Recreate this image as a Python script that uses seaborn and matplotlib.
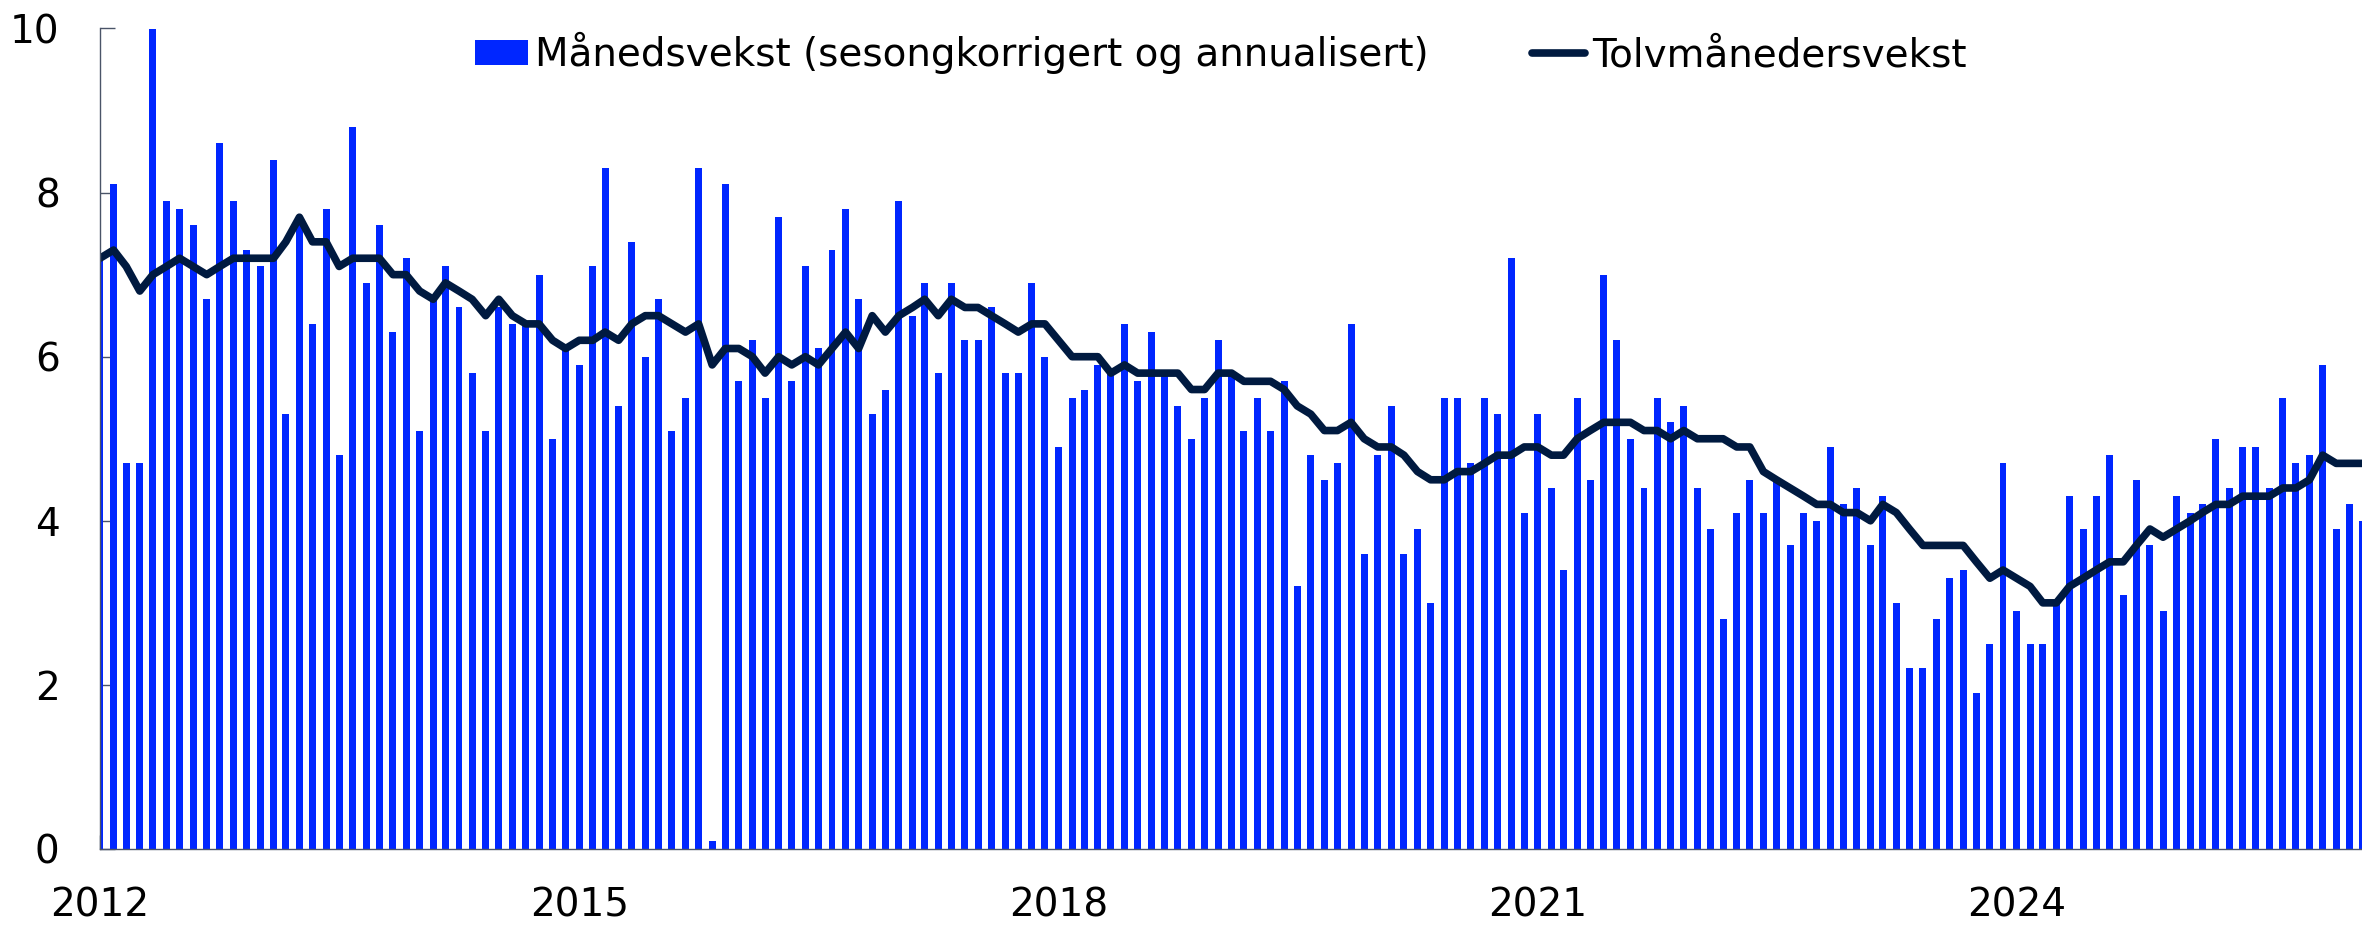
import numpy as np
import pandas as pd
import seaborn as sns
import matplotlib.pyplot as plt
import matplotlib.dates as mdates
from matplotlib.patches import Patch
from matplotlib.lines import Line2D

# månedlige observasjoner, jan 2012 - mar 2026
maaneder = pd.date_range("2012-01-01", "2026-03-01", freq="MS")
aarstall = pd.date_range("2012-01-01", "2024-01-01", freq="36MS")

# Månedsvekst (sesongkorrigert og annualisert)
maanedsvekst = [
    7.2, 8.1, 4.7, 4.7, 10.0, 7.9, 7.8, 7.6, 6.7, 8.6, 7.9, 7.3,
    7.1, 8.4, 5.3, 7.6, 6.4, 7.8, 4.8, 8.8, 6.9, 7.6, 6.3, 7.2,
    5.1, 6.7, 7.1, 6.6, 5.8, 5.1, 6.6, 6.4, 6.4, 7.0, 5.0, 6.1,
    5.9, 7.1, 8.3, 5.4, 7.4, 6.0, 6.7, 5.1, 5.5, 8.3, 0.1, 8.1,
    5.7, 6.2, 5.5, 7.7, 5.7, 7.1, 6.1, 7.3, 7.8, 6.7, 5.3, 5.6,
    7.9, 6.5, 6.9, 5.8, 6.9, 6.2, 6.2, 6.6, 5.8, 5.8, 6.9, 6.0,
    4.9, 5.5, 5.6, 5.9, 5.8, 6.4, 5.7, 6.3, 5.8, 5.4, 5.0, 5.5,
    6.2, 5.8, 5.1, 5.5, 5.1, 5.7, 3.2, 4.8, 4.5, 4.7, 6.4, 3.6,
    4.8, 5.4, 3.6, 3.9, 3.0, 5.5, 5.5, 4.7, 5.5, 5.3, 7.2, 4.1,
    5.3, 4.4, 3.4, 5.5, 4.5, 7.0, 6.2, 5.0, 4.4, 5.5, 5.2, 5.4,
    4.4, 3.9, 2.8, 4.1, 4.5, 4.1, 4.5, 3.7, 4.1, 4.0, 4.9, 4.2,
    4.4, 3.7, 4.3, 3.0, 2.2, 2.2, 2.8, 3.3, 3.4, 1.9, 2.5, 4.7,
    2.9, 2.5, 2.5, 3.0, 4.3, 3.9, 4.3, 4.8, 3.1, 4.5, 3.7, 2.9,
    4.3, 4.1, 4.2, 5.0, 4.4, 4.9, 4.9, 4.4, 5.5, 4.7, 4.8, 5.9,
    3.9, 4.2, 4.0,
]

# Tolvmånedersvekst
tolvmaanedersvekst = [
    7.2, 7.3, 7.1, 6.8, 7.0, 7.1, 7.2, 7.1, 7.0, 7.1, 7.2, 7.2,
    7.2, 7.2, 7.4, 7.7, 7.4, 7.4, 7.1, 7.2, 7.2, 7.2, 7.0, 7.0,
    6.8, 6.7, 6.9, 6.8, 6.7, 6.5, 6.7, 6.5, 6.4, 6.4, 6.2, 6.1,
    6.2, 6.2, 6.3, 6.2, 6.4, 6.5, 6.5, 6.4, 6.3, 6.4, 5.9, 6.1,
    6.1, 6.0, 5.8, 6.0, 5.9, 6.0, 5.9, 6.1, 6.3, 6.1, 6.5, 6.3,
    6.5, 6.6, 6.7, 6.5, 6.7, 6.6, 6.6, 6.5, 6.4, 6.3, 6.4, 6.4,
    6.2, 6.0, 6.0, 6.0, 5.8, 5.9, 5.8, 5.8, 5.8, 5.8, 5.6, 5.6,
    5.8, 5.8, 5.7, 5.7, 5.7, 5.6, 5.4, 5.3, 5.1, 5.1, 5.2, 5.0,
    4.9, 4.9, 4.8, 4.6, 4.5, 4.5, 4.6, 4.6, 4.7, 4.8, 4.8, 4.9,
    4.9, 4.8, 4.8, 5.0, 5.1, 5.2, 5.2, 5.2, 5.1, 5.1, 5.0, 5.1,
    5.0, 5.0, 5.0, 4.9, 4.9, 4.6, 4.5, 4.4, 4.3, 4.2, 4.2, 4.1,
    4.1, 4.0, 4.2, 4.1, 3.9, 3.7, 3.7, 3.7, 3.7, 3.5, 3.3, 3.4,
    3.3, 3.2, 3.0, 3.0, 3.2, 3.3, 3.4, 3.5, 3.5, 3.7, 3.9, 3.8,
    3.9, 4.0, 4.1, 4.2, 4.2, 4.3, 4.3, 4.3, 4.4, 4.4, 4.5, 4.8,
    4.7, 4.7, 4.7,
]

BLAA = "#0026FF"
MOERK = "#001A40"
AKSE = "#4a5468"

sns.set_theme(style="white")
plt.rcParams["font.family"] = ["DejaVu Sans"]
plt.rcParams["text.color"] = "black"

df = pd.DataFrame({
    "dato": mdates.date2num(maaneder),
    "maaned": maanedsvekst,
    "tolv": tolvmaanedersvekst,
})

fig = plt.figure(figsize=(23.62, 9.26), dpi=100)
ax = fig.add_axes([100 / 2362, 77 / 926, 1 - 100 / 2362, (849 - 28.5) / 926])

sns.barplot(data=df, x="dato", y="maaned", native_scale=True, color=BLAA,
            saturation=1, width=0.57, errorbar=None, linewidth=0, ax=ax)
sns.lineplot(data=df, x="dato", y="tolv", color=MOERK, linewidth=5.5,
             solid_joinstyle="round", solid_capstyle="round", ax=ax)

ax.set_xlim(mdates.date2num(pd.Timestamp("2012-01-01")),
            mdates.date2num(pd.Timestamp("2026-03-01")))
ax.set_ylim(0, 10)
ax.set_yticks(np.arange(0, 11, 2))
ax.set_xticks(mdates.date2num(aarstall))
ax.set_xticklabels([str(d.year) for d in aarstall])
ax.set_xlabel("")
ax.set_ylabel("")

for side in ["top", "right"]:
    ax.spines[side].set_visible(False)
for side in ["left", "bottom"]:
    ax.spines[side].set_color(AKSE)
    ax.spines[side].set_linewidth(1)

ax.tick_params(axis="y", direction="in", length=11, width=1, color=AKSE,
               labelsize=28, pad=29, labelcolor="black")
ax.tick_params(axis="x", direction="in", length=10, width=1, color=AKSE,
               labelsize=28, pad=27, labelcolor="black")
ax.tick_params(left=True, bottom=True)

handles = [
    Patch(facecolor=BLAA, edgecolor="none",
          label="Månedsvekst (sesongkorrigert og annualisert)"),
    Line2D([0], [0], color=MOERK, linewidth=5.5, solid_capstyle="round",
           label="Tolvmånedersvekst"),
]
leg = fig.legend(handles=handles, loc="center left", bbox_to_anchor=(475 / 2362, 1 - 53 / 926),
                 ncol=2, frameon=False, fontsize=28, borderpad=0, borderaxespad=0,
                 handlelength=1.36, handleheight=0.62, handletextpad=0.18,
                 columnspacing=2.67)
for t in leg.get_texts():
    t.set_color("black")

fig.savefig("out.png", dpi=100)
